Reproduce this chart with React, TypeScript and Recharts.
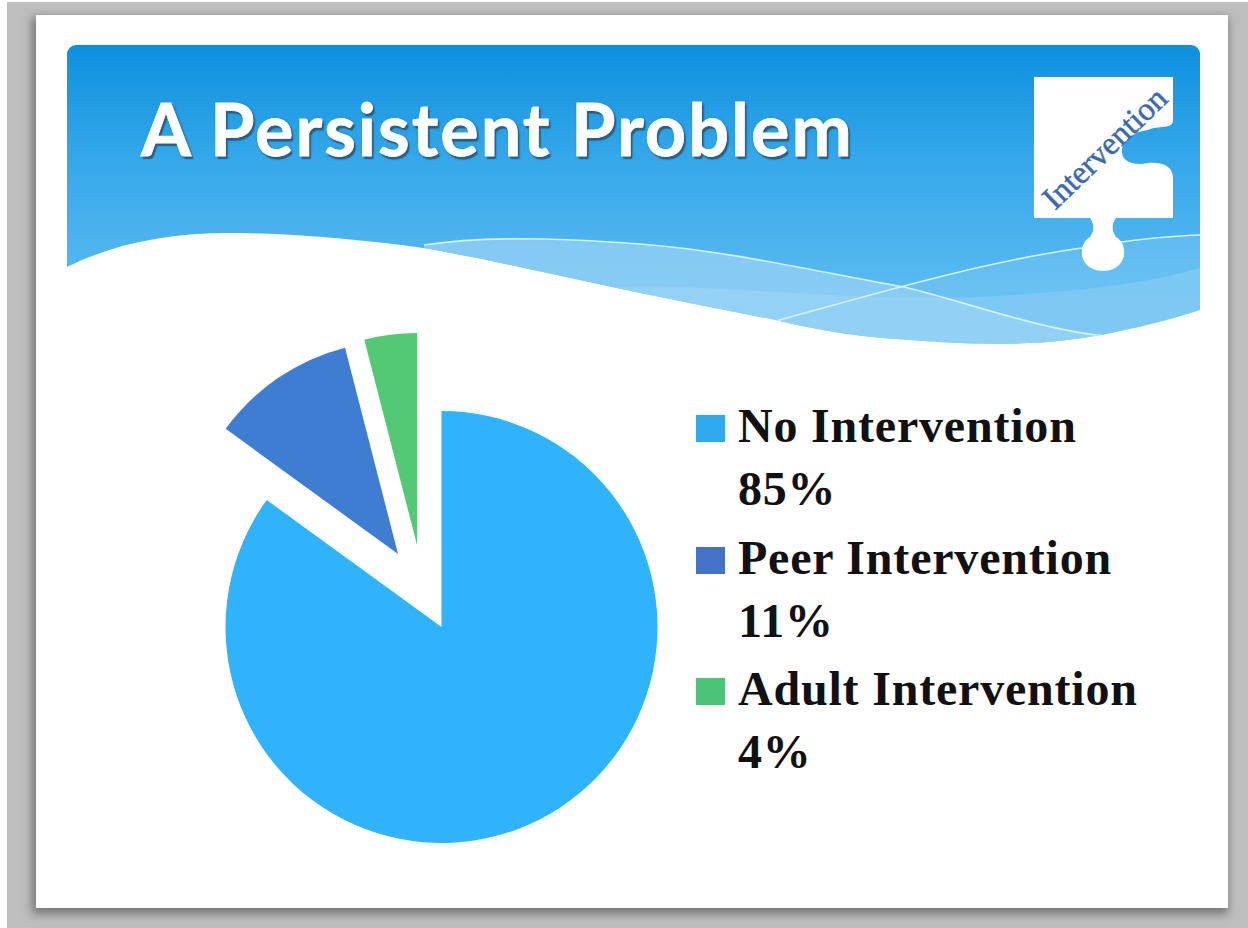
import React from 'react';
import { PieChart, Pie, Cell, Legend, Sector } from 'recharts';

const categories = ['No Intervention', 'Peer Intervention', 'Adult Intervention'];
const shares = [85, 11, 4];
const sliceColors = ['#2fb4fb', '#3f7dd2', '#52c972'];
const legendColors = ['#2fa9ee', '#4472c6', '#4cc477'];
const sliceOffsets = [
  [0, 0],
  [-43.5, -73],
  [-24.5, -82],
];
const sliceRadii = [216, 213, 212];

const data = categories.map((name, i) => ({ name, value: shares[i] }));

const ExplodedSlice = (props: any) => {
  const i = categories.indexOf(props.name);
  const [dx, dy] = sliceOffsets[i];
  return <Sector {...props} cx={props.cx + dx} cy={props.cy + dy} outerRadius={sliceRadii[i]} stroke="none" />;
};

const LegendBlock = () => (
  <div style={{ fontFamily: '"Liberation Serif", serif', fontWeight: 700, fontSize: 48, color: '#111', letterSpacing: 0.8 }}>
    {categories.map((name, i) => (
      <div key={name} style={{ position: 'relative', height: 131.5, paddingLeft: 42 }}>
        <div style={{ position: 'absolute', left: 0, top: 21, width: 29, height: 27, background: legendColors[i] }} />
        <div style={{ lineHeight: '63px', whiteSpace: 'nowrap' }}>{name}</div>
        <div style={{ lineHeight: '63px' }}>{shares[i]}%</div>
      </div>
    ))}
  </div>
);

const SlideArt = () => (
  <svg width={1248} height={928} style={{ position: 'absolute', left: 0, top: 0 }}>
    <defs>
      <linearGradient id="head" x1="0" y1="45" x2="0" y2="300" gradientUnits="userSpaceOnUse">
        <stop offset="0" stopColor="#0d90de" />
        <stop offset="0.45" stopColor="#35a8ea" />
        <stop offset="1" stopColor="#5cbcf2" />
      </linearGradient>
      <clipPath id="headClip">
        <path d="M67 267 C115 243 170 233 229 233 C290 233 367 240 430 249 C500 262 570 278 640 293 C690 303 730 311 776 320 C820 331 860 337 911 340 C950 343 990 345 1028 343 C1070 342 1130 332 1200 310 L1200 45 L67 45 Z" />
      </clipPath>
    </defs>
    <g clipPath="url(#headClip)">
      <rect x={67} y={45} width={1133} height={320} rx={9} fill="url(#head)" />
      <path d="M424 245 C470 238 530 236 640 244 C720 250 800 268 904 287 C960 300 1040 330 1105 336 L1105 360 L424 360 Z" fill="#9bd3f5" opacity={0.7} />
      <path d="M600 288 C700 280 860 305 1000 296 C1100 290 1160 280 1200 268 L1200 360 L600 360 Z" fill="#a8d9f8" opacity={0.35} />
      <path d="M776 320 C860 298 980 262 1082 248 C1130 240 1170 236 1200 235 L1200 360 L776 360 Z" fill="#8ecff6" opacity={0.3} />
      <path d="M424 245 C470 238 530 236 640 244 C720 250 800 268 904 287 C960 300 1040 330 1105 336" fill="none" stroke="#d4f1fc" strokeWidth={1.6} />
      <path d="M776 321 C860 298 980 262 1082 248 C1130 240 1170 236 1200 235" fill="none" stroke="#d4f1fc" strokeWidth={1.6} />
    </g>
    <path
      d="M1034 77 L1173 77 L1173 120 C1173 130 1158 125 1148 130 C1130 132 1121 145 1122 152 C1122 162 1135 166 1148 163 C1160 162 1173 165 1173 178 L1173 218 L1116 218 C1111 225 1112 231 1116 237 C1127 243 1127 262 1115 268 C1108 272 1098 272 1091 268 C1079 262 1079 243 1090 237 C1094 231 1095 225 1090 218 L1034 218 Z"
      fill="#fff"
    />
    <text
      x={1055}
      y={211}
      transform="rotate(-44 1055 211)"
      fontFamily='"Liberation Serif", serif'
      fontSize={32.5}
      stroke="#3a69b0"
      strokeWidth={0.5}
      fill="#3a69b0"
    >
      Intervention
    </text>
  </svg>
);

export default function App() {
  return (
    <div style={{ position: 'absolute', left: 0, top: 0, width: 1248, height: 928, overflow: 'hidden', background: '#fff' }}>
      <div style={{ position: 'absolute', left: 7, top: 2, width: 1241, height: 926, background: '#bebebe' }} />
      <div style={{ position: 'absolute', left: 36, top: 15, width: 1192, height: 893, background: '#fff', boxShadow: '-2px 4px 9px 2px #777' }} />
      <SlideArt />
      <div
        style={{
          position: 'absolute',
          left: 141,
          top: 83,
          fontFamily: 'Lato, sans-serif',
          fontWeight: 700,
          fontSize: 72,
          letterSpacing: 2,
          lineHeight: '90px',
          color: '#fbfeff',
          whiteSpace: 'nowrap',
          WebkitTextStroke: '0.8px #fbfeff',
          textShadow: '2px 3px 1px #2b5f7f, 1px 1px 3px #1d5a85',
        }}
      >
        A Persistent Problem
      </div>
      <div style={{ position: 'absolute', left: 0, top: 0 }}>
        <PieChart width={1248} height={928} margin={{ top: 0, right: 0, bottom: 0, left: 0 }}>
          <Pie
            data={data}
            dataKey="value"
            nameKey="name"
            cx={441.5}
            cy={627}
            outerRadius={216}
            startAngle={90}
            endAngle={-270}
            stroke="none"
            shape={ExplodedSlice}
            isAnimationActive={false}
          >
            {data.map((d, i) => (
              <Cell key={d.name} fill={sliceColors[i]} />
            ))}
          </Pie>
          <Legend
            layout="vertical"
            content={<LegendBlock />}
            wrapperStyle={{ position: 'absolute', left: 696, top: 394, width: 480, bottom: 'auto' }}
          />
        </PieChart>
      </div>
    </div>
  );
}
